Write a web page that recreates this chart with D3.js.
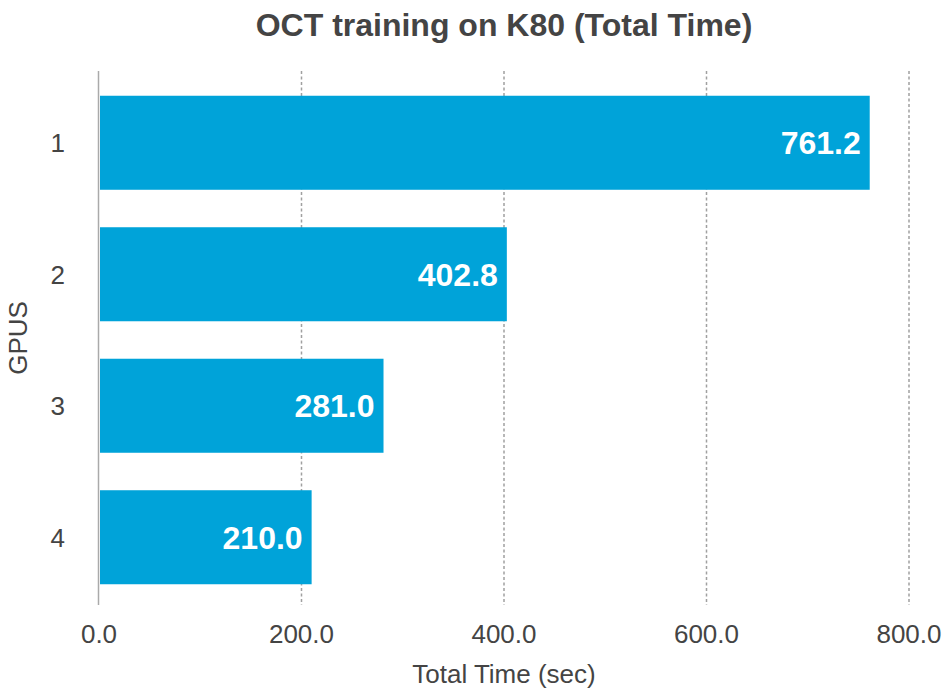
<!DOCTYPE html>
<html>
<head>
<meta charset="utf-8">
<script src="https://cdn.jsdelivr.net/npm/d3@7"></script>
<style>
  html, body { margin: 0; padding: 0; background: #fff; }
  text { font-family: "Liberation Sans", Arial, sans-serif; }
</style>
</head>
<body>
<div class="graph"></div>
<script>
// Data
var gpus = ["1", "2", "3", "4"];
var totalTime = [761.2, 402.8, 281.0, 210.0];
var xTicks = [0, 200, 400, 600, 800];

// Configuration Variables
var barColour = "#00a3d9";
var textColour = "#444444";

var width = 947,
    height = 698;

var plotLeft = 99,
    plotRight = 909,
    plotTop = 71,
    plotBottom = 605;

var svg = d3.select(".graph").append("svg")
    .attr("width", width)
    .attr("height", height)
    .style("display", "block");

var x = d3.scaleLinear()
    .domain([0, 800])
    .range([plotLeft, plotRight]);

var y = d3.scaleBand()
    .domain(gpus)
    .range([plotTop + 2, plotBottom + 2])
    .paddingInner(0.285)
    .paddingOuter(0.173);

// Grid lines (dashed)
svg.append("g")
    .selectAll("line")
    .data(xTicks.filter(function(d) { return d > 0; }))
    .enter().append("line")
    .attr("x1", function(d) { return x(d); })
    .attr("x2", function(d) { return x(d); })
    .attr("y1", plotTop)
    .attr("y2", plotBottom)
    .style("stroke", "#a0a0a0")
    .style("stroke-width", 1.5)
    .style("stroke-dasharray", "3,2.5");

// Bars
var bars = svg.append("g")
    .selectAll("g")
    .data(gpus)
    .enter().append("g");

bars.append("rect")
    .attr("x", x(0) + 1)
    .attr("y", function(d) { return y(d); })
    .attr("width", function(d, i) { return x(totalTime[i]) - x(0) - 1; })
    .attr("height", y.bandwidth())
    .style("fill", barColour);

bars.append("text")
    .attr("x", function(d, i) { return x(totalTime[i]) - 9; })
    .attr("y", function(d) { return y(d) + y.bandwidth() / 2; })
    .attr("dy", "0.36em")
    .attr("text-anchor", "end")
    .attr("font-size", "32px")
    .attr("font-weight", "bold")
    .style("fill", "#ffffff")
    .text(function(d, i) { return totalTime[i].toFixed(1); });

// Left axis line
svg.append("line")
    .attr("x1", plotLeft - 0.5)
    .attr("x2", plotLeft - 0.5)
    .attr("y1", plotTop)
    .attr("y2", plotBottom)
    .style("stroke", "#aaaaaa")
    .style("stroke-width", 1.5);

// Y tick labels
svg.append("g")
    .selectAll("text")
    .data(gpus)
    .enter().append("text")
    .attr("x", 65)
    .attr("y", function(d) { return y(d) + y.bandwidth() / 2; })
    .attr("dy", "0.36em")
    .attr("text-anchor", "end")
    .attr("font-size", "26px")
    .style("fill", textColour)
    .text(function(d) { return d; });

// X tick labels
svg.append("g")
    .selectAll("text")
    .data(xTicks)
    .enter().append("text")
    .attr("x", function(d) { return x(d); })
    .attr("y", 643)
    .attr("text-anchor", "middle")
    .attr("font-size", "26px")
    .style("fill", textColour)
    .text(function(d) { return d3.format(".1f")(d); });

// Axis titles
svg.append("text")
    .attr("x", (plotLeft + plotRight) / 2)
    .attr("y", 683)
    .attr("text-anchor", "middle")
    .attr("font-size", "26px")
    .style("fill", textColour)
    .text("Total Time (sec)");

svg.append("text")
    .attr("transform", "translate(27," + (plotTop + plotBottom) / 2 + ") rotate(-90)")
    .attr("text-anchor", "middle")
    .attr("font-size", "26px")
    .style("fill", textColour)
    .text("GPUS");

// Title
svg.append("text")
    .attr("x", (plotLeft + plotRight) / 2)
    .attr("y", 36)
    .attr("text-anchor", "middle")
    .attr("font-size", "32px")
    .attr("font-weight", "bold")
    .style("fill", textColour)
    .text("OCT training on K80 (Total Time)");
</script>
</body>
</html>
